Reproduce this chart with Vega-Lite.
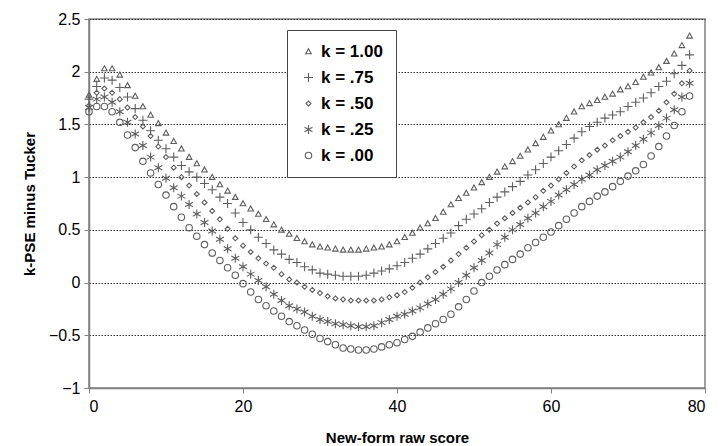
{
"$schema": "https://vega.github.io/schema/vega-lite/v6.json",
"width": 616, "height": 369,
"autosize": "none",
"padding": {"left": 89, "top": 19, "right": 15, "bottom": 58},
"background": "white",
"config": {"font": "Liberation Sans", "view": {"stroke": "#808080", "strokeWidth": 1.5}},
"data": {"values": [
{"x":0,"k100":1.78,"k075":1.74,"k050":1.68,"k025":1.66,"k000":1.62},
{"x":1,"k100":1.93,"k075":1.86,"k050":1.80,"k025":1.74,"k000":1.67},
{"x":2,"k100":2.03,"k075":1.94,"k050":1.84,"k025":1.76,"k000":1.67},
{"x":3,"k100":2.03,"k075":1.92,"k050":1.80,"k025":1.71,"k000":1.62},
{"x":4,"k100":1.97,"k075":1.85,"k050":1.74,"k025":1.62,"k000":1.52},
{"x":5,"k100":1.87,"k075":1.76,"k050":1.66,"k025":1.52,"k000":1.40},
{"x":6,"k100":1.77,"k075":1.65,"k050":1.57,"k025":1.41,"k000":1.28},
{"x":7,"k100":1.67,"k075":1.54,"k050":1.48,"k025":1.30,"k000":1.15},
{"x":8,"k100":1.59,"k075":1.44,"k050":1.39,"k025":1.19,"k000":1.04},
{"x":9,"k100":1.51,"k075":1.35,"k050":1.29,"k025":1.09,"k000":0.93},
{"x":10,"k100":1.42,"k075":1.27,"k050":1.19,"k025":0.99,"k000":0.83},
{"x":11,"k100":1.34,"k075":1.19,"k050":1.09,"k025":0.90,"k000":0.72},
{"x":12,"k100":1.27,"k075":1.11,"k050":1.00,"k025":0.82,"k000":0.62},
{"x":13,"k100":1.19,"k075":1.05,"k050":0.92,"k025":0.74,"k000":0.52},
{"x":14,"k100":1.13,"k075":1.00,"k050":0.84,"k025":0.65,"k000":0.44},
{"x":15,"k100":1.07,"k075":0.94,"k050":0.76,"k025":0.57,"k000":0.36},
{"x":16,"k100":1.00,"k075":0.88,"k050":0.68,"k025":0.49,"k000":0.28},
{"x":17,"k100":0.93,"k075":0.81,"k050":0.60,"k025":0.41,"k000":0.21},
{"x":18,"k100":0.87,"k075":0.75,"k050":0.51,"k025":0.32,"k000":0.14},
{"x":19,"k100":0.81,"k075":0.66,"k050":0.42,"k025":0.23,"k000":0.07},
{"x":20,"k100":0.75,"k075":0.57,"k050":0.35,"k025":0.15,"k000":-0.01},
{"x":21,"k100":0.70,"k075":0.50,"k050":0.29,"k025":0.08,"k000":-0.09},
{"x":22,"k100":0.65,"k075":0.43,"k050":0.23,"k025":0.02,"k000":-0.16},
{"x":23,"k100":0.60,"k075":0.37,"k050":0.18,"k025":-0.04,"k000":-0.22},
{"x":24,"k100":0.55,"k075":0.31,"k050":0.14,"k025":-0.11,"k000":-0.27},
{"x":25,"k100":0.50,"k075":0.27,"k050":0.08,"k025":-0.17,"k000":-0.32},
{"x":26,"k100":0.46,"k075":0.22,"k050":0.03,"k025":-0.22,"k000":-0.37},
{"x":27,"k100":0.42,"k075":0.19,"k050":0.00,"k025":-0.25,"k000":-0.41},
{"x":28,"k100":0.39,"k075":0.15,"k050":-0.04,"k025":-0.28,"k000":-0.45},
{"x":29,"k100":0.36,"k075":0.12,"k050":-0.07,"k025":-0.32,"k000":-0.49},
{"x":30,"k100":0.34,"k075":0.09,"k050":-0.10,"k025":-0.35,"k000":-0.53},
{"x":31,"k100":0.33,"k075":0.08,"k050":-0.13,"k025":-0.37,"k000":-0.56},
{"x":32,"k100":0.32,"k075":0.07,"k050":-0.15,"k025":-0.39,"k000":-0.59},
{"x":33,"k100":0.31,"k075":0.06,"k050":-0.16,"k025":-0.40,"k000":-0.62},
{"x":34,"k100":0.31,"k075":0.06,"k050":-0.17,"k025":-0.41,"k000":-0.63},
{"x":35,"k100":0.31,"k075":0.06,"k050":-0.17,"k025":-0.42,"k000":-0.64},
{"x":36,"k100":0.32,"k075":0.07,"k050":-0.17,"k025":-0.42,"k000":-0.64},
{"x":37,"k100":0.33,"k075":0.09,"k050":-0.17,"k025":-0.41,"k000":-0.63},
{"x":38,"k100":0.34,"k075":0.11,"k050":-0.16,"k025":-0.38,"k000":-0.61},
{"x":39,"k100":0.36,"k075":0.13,"k050":-0.14,"k025":-0.35,"k000":-0.59},
{"x":40,"k100":0.39,"k075":0.16,"k050":-0.12,"k025":-0.32,"k000":-0.57},
{"x":41,"k100":0.43,"k075":0.19,"k050":-0.09,"k025":-0.30,"k000":-0.54},
{"x":42,"k100":0.47,"k075":0.23,"k050":-0.05,"k025":-0.27,"k000":-0.51},
{"x":43,"k100":0.52,"k075":0.27,"k050":0.00,"k025":-0.24,"k000":-0.47},
{"x":44,"k100":0.56,"k075":0.32,"k050":0.05,"k025":-0.20,"k000":-0.43},
{"x":45,"k100":0.61,"k075":0.37,"k050":0.10,"k025":-0.16,"k000":-0.39},
{"x":46,"k100":0.67,"k075":0.42,"k050":0.15,"k025":-0.11,"k000":-0.35},
{"x":47,"k100":0.74,"k075":0.47,"k050":0.21,"k025":-0.06,"k000":-0.30},
{"x":48,"k100":0.80,"k075":0.54,"k050":0.27,"k025":0.00,"k000":-0.23},
{"x":49,"k100":0.85,"k075":0.60,"k050":0.33,"k025":0.07,"k000":-0.16},
{"x":50,"k100":0.90,"k075":0.65,"k050":0.39,"k025":0.14,"k000":-0.08},
{"x":51,"k100":0.95,"k075":0.70,"k050":0.45,"k025":0.21,"k000":0.00},
{"x":52,"k100":1.00,"k075":0.76,"k050":0.50,"k025":0.28,"k000":0.06},
{"x":53,"k100":1.05,"k075":0.81,"k050":0.56,"k025":0.36,"k000":0.12},
{"x":54,"k100":1.10,"k075":0.86,"k050":0.61,"k025":0.43,"k000":0.17},
{"x":55,"k100":1.15,"k075":0.91,"k050":0.66,"k025":0.50,"k000":0.22},
{"x":56,"k100":1.20,"k075":0.96,"k050":0.71,"k025":0.55,"k000":0.27},
{"x":57,"k100":1.26,"k075":1.02,"k050":0.76,"k025":0.61,"k000":0.33},
{"x":58,"k100":1.32,"k075":1.07,"k050":0.81,"k025":0.66,"k000":0.38},
{"x":59,"k100":1.38,"k075":1.13,"k050":0.87,"k025":0.72,"k000":0.43},
{"x":60,"k100":1.44,"k075":1.19,"k050":0.92,"k025":0.77,"k000":0.48},
{"x":61,"k100":1.50,"k075":1.25,"k050":0.98,"k025":0.83,"k000":0.54},
{"x":62,"k100":1.56,"k075":1.31,"k050":1.04,"k025":0.88,"k000":0.60},
{"x":63,"k100":1.62,"k075":1.37,"k050":1.10,"k025":0.93,"k000":0.66},
{"x":64,"k100":1.67,"k075":1.43,"k050":1.16,"k025":0.98,"k000":0.72},
{"x":65,"k100":1.70,"k075":1.48,"k050":1.21,"k025":1.02,"k000":0.77},
{"x":66,"k100":1.73,"k075":1.52,"k050":1.26,"k025":1.07,"k000":0.82},
{"x":67,"k100":1.76,"k075":1.56,"k050":1.30,"k025":1.11,"k000":0.86},
{"x":68,"k100":1.79,"k075":1.59,"k050":1.35,"k025":1.15,"k000":0.91},
{"x":69,"k100":1.83,"k075":1.62,"k050":1.39,"k025":1.19,"k000":0.96},
{"x":70,"k100":1.86,"k075":1.67,"k050":1.43,"k025":1.24,"k000":1.01},
{"x":71,"k100":1.90,"k075":1.71,"k050":1.47,"k025":1.30,"k000":1.06},
{"x":72,"k100":1.95,"k075":1.75,"k050":1.52,"k025":1.36,"k000":1.12},
{"x":73,"k100":1.99,"k075":1.80,"k050":1.57,"k025":1.42,"k000":1.20},
{"x":74,"k100":2.04,"k075":1.86,"k050":1.63,"k025":1.49,"k000":1.29},
{"x":75,"k100":2.10,"k075":1.91,"k050":1.71,"k025":1.56,"k000":1.39},
{"x":76,"k100":2.17,"k075":1.98,"k050":1.79,"k025":1.64,"k000":1.49},
{"x":77,"k100":2.25,"k075":2.06,"k050":1.89,"k025":1.76,"k000":1.62},
{"x":78,"k100":2.34,"k075":2.16,"k050":2.01,"k025":1.89,"k000":1.77}
]},
"transform": [{"fold": ["k100","k075","k050","k025","k000"], "as": ["k","v"]}],
"mark": {"type": "point", "filled": false, "strokeWidth": 1.1, "color": "#5e5e5e", "size": 81, "opacity": 1},
"encoding": {
  "x": {"field": "x", "type": "quantitative",
        "scale": {"domain": [0, 80], "nice": false},
        "axis": {"values": [0, 20, 40, 60, 80], "grid": false, "title": "New-form raw score",
                 "titleFontSize": 15, "titleFontWeight": "bold", "titleColor": "black", "titlePadding": 16,
                 "labelFontSize": 16, "labelColor": "black", "labelPadding": 5,
                 "domainColor": "#808080", "domainWidth": 1.5, "tickColor": "#808080", "tickSize": 5}},
  "y": {"field": "v", "type": "quantitative",
        "scale": {"domain": [-1, 2.5], "nice": false, "zero": false},
        "axis": {"values": [-1, -0.5, 0, 0.5, 1, 1.5, 2, 2.5], "format": "~g", "grid": true,
                 "gridColor": "#333333", "gridDash": [1.5, 1.5], "gridWidth": 1,
                 "title": "k-PSE minus Tucker", "titleFontSize": 15, "titleFontWeight": "bold", "titleColor": "black", "titlePadding": 11,
                 "labelFontSize": 16, "labelColor": "black", "labelPadding": 4,
                 "domainColor": "#808080", "domainWidth": 1.5, "tickColor": "#808080", "tickSize": 5}},
  "shape": {"field": "k", "type": "nominal",
            "scale": {"domain": ["k100", "k075", "k050", "k025", "k000"],
                      "range": ["M0,-0.62L0.62,0.5L-0.62,0.5Z",
                                "M-1,0L1,0M0,-1L0,1",
                                "M0,-0.55L0.55,0L0,0.55L-0.55,0Z",
                                "M0,-1L0,1M-0.87,-0.5L0.87,0.5M-0.87,0.5L0.87,-0.5",
                                "M-0.72,0A0.72,0.72 0 1,1 0.72,0A0.72,0.72 0 1,1 -0.72,0Z"]},
            "legend": {"orient": "none", "legendX": 198, "legendY": 11, "title": null,
                       "labelExpr": "datum.label == 'k100' ? 'k = 1.00' : datum.label == 'k075' ? 'k = .75' : datum.label == 'k050' ? 'k = .50' : datum.label == 'k025' ? 'k = .25' : 'k = .00'",
                       "labelFont": "Liberation Sans", "labelFontSize": 17, "labelFontWeight": "bold", "labelColor": "black",
                       "labelOffset": 4,
                       "strokeColor": "#444444", "fillColor": "white", "padding": 13, "rowPadding": 8,
                       "symbolStrokeColor": "#5e5e5e", "symbolStrokeWidth": 1.1, "symbolSize": 81, "symbolFillColor": "transparent"}}
}
}
